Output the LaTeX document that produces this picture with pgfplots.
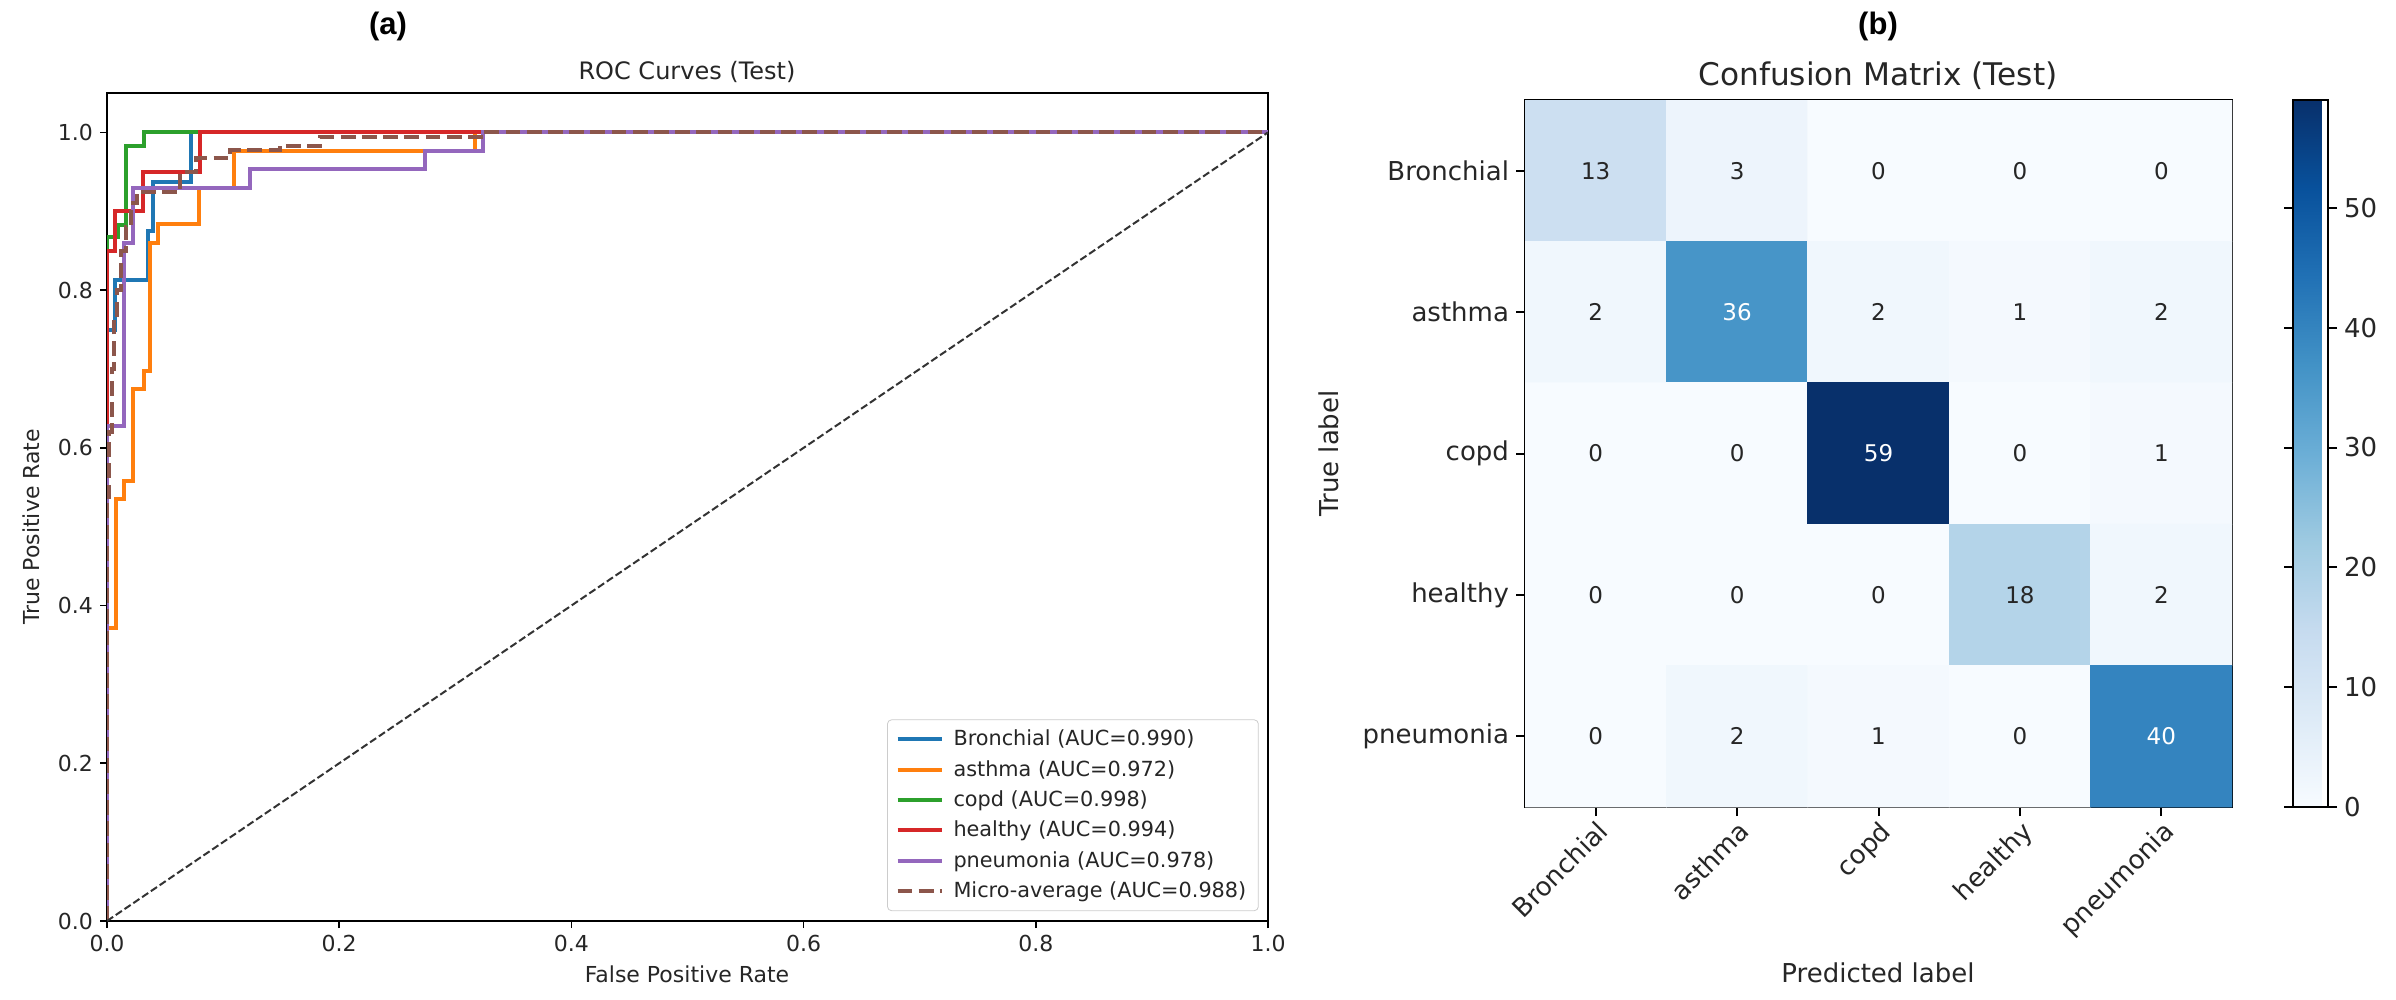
\documentclass[border=0pt]{standalone}
\usepackage{fontspec}
\setmainfont{DejaVu Sans}
\newfontfamily\panelfont{Liberation Sans}
\usepackage{pgfplots}
\pgfplotsset{compat=1.18}
\pgfplotsset{/pgf/number format/assume math mode=true}

\definecolor{tabblue}{HTML}{1F77B4}
\definecolor{taborange}{HTML}{FF7F0E}
\definecolor{tabgreen}{HTML}{2CA02C}
\definecolor{tabred}{HTML}{D62728}
\definecolor{tabpurple}{HTML}{9467BD}
\definecolor{tabbrown}{HTML}{8C564B}

\pgfplotsset{colormap={blues}{rgb255=(247,251,255) rgb255=(222,235,247) rgb255=(198,219,239) rgb255=(158,202,225) rgb255=(107,174,214) rgb255=(66,146,198) rgb255=(33,113,181) rgb255=(8,81,156) rgb255=(8,48,107)}}

\pgfplotstableread{
x y c
0 0 13
1 0 3
2 0 0
3 0 0
4 0 0
0 1 2
1 1 36
2 1 2
3 1 1
4 1 2
0 2 0
1 2 0
2 2 59
3 2 0
4 2 1
0 3 0
1 3 0
2 3 0
3 3 18
4 3 2
0 4 0
1 4 2
2 4 1
3 4 0
4 4 40
}\cmdata

\pgfplotstableread{
x y c
0 0 13
1 0 3
2 0 0
3 0 0
4 0 0
0 1 2
2 1 2
3 1 1
4 1 2
0 2 0
1 2 0
3 2 0
4 2 1
0 3 0
1 3 0
2 3 0
3 3 18
4 3 2
0 4 0
1 4 2
2 4 1
3 4 0
}\darktext

\pgfplotstableread{
x y c
1 1 36
2 2 59
4 4 40
}\lighttext

\begin{document}
\begin{tikzpicture}
\useasboundingbox (0,0) rectangle (1198pt,500pt);

% ---------------- ROC panel ----------------
\begin{axis}[
  at={(53.5pt,39.5pt)}, anchor=south west,
  width=580.5pt, height=414pt, scale only axis,
  xmin=0, xmax=1, ymin=0, ymax=1.05,
  xtick={0,0.2,0.4,0.6,0.8,1},
  ytick={0,0.2,0.4,0.6,0.8,1},
  xticklabels={0.0,0.2,0.4,0.6,0.8,1.0},
  yticklabels={0.0,0.2,0.4,0.6,0.8,1.0},
  tick label style={font=\fontsize{11}{13}\selectfont, text=black!85},
  tick align=outside, tick pos=left,
  major tick length=3.5pt,
  every tick/.style={black, line width=0.8pt},
  axis line style={line width=0.8pt},
  legend style={at={(0.992,0.012)}, anchor=south east,
    font=\fontsize{10.4}{12.5}\selectfont, text=black!85,
    draw=black!20, rounded corners=2pt, fill=white, fill opacity=0.8, text opacity=1,
    inner xsep=4pt, inner ysep=3pt, row sep=1.8pt,
    /tikz/every odd column/.append style={column sep=3pt}},
  legend cell align=left,
  legend image code/.code={\draw[#1] (0pt,0pt) -- (22pt,0pt);},
]
\addplot[tabblue, line width=2pt] coordinates {(0,0) (0,0.75) (0.0072,0.75) (0.0072,0.8125) (0.0356,0.8125) (0.0356,0.875) (0.040,0.875) (0.040,0.9375) (0.072,0.9375) (0.072,1) (1,1)};
\addlegendentry{Bronchial (AUC=0.990)}
\addplot[taborange, line width=2pt] coordinates {(0,0) (0,0.372) (0.0078,0.372) (0.0078,0.535) (0.0144,0.535) (0.0144,0.558) (0.0227,0.558) (0.0227,0.674) (0.0322,0.674) (0.0322,0.698) (0.037,0.698) (0.037,0.860) (0.044,0.860) (0.044,0.884) (0.0795,0.884) (0.0795,0.930) (0.109,0.930) (0.109,0.977) (0.317,0.977) (0.317,1) (1,1)};
\addlegendentry{asthma (AUC=0.972)}
\addplot[tabgreen, line width=2pt] coordinates {(0,0) (0,0.867) (0.0098,0.867) (0.0098,0.883) (0.0164,0.883) (0.0164,0.983) (0.032,0.983) (0.032,1) (1,1)};
\addlegendentry{copd (AUC=0.998)}
\addplot[tabred, line width=2pt] coordinates {(0,0) (0,0.85) (0.0069,0.85) (0.0069,0.9) (0.031,0.9) (0.031,0.95) (0.08,0.95) (0.08,1) (1,1)};
\addlegendentry{healthy (AUC=0.994)}
\addplot[tabpurple, line width=2pt] coordinates {(0,0) (0,0.628) (0.0144,0.628) (0.0144,0.86) (0.0227,0.86) (0.0227,0.93) (0.123,0.93) (0.123,0.953) (0.274,0.953) (0.274,0.977) (0.324,0.977) (0.324,1) (1,1)};
\addlegendentry{pneumonia (AUC=0.978)}
\addplot[tabbrown, line width=2pt, dash pattern=on 7.4pt off 3.2pt] coordinates {(0,0) (0,0.53) (0.002,0.53) (0.002,0.62) (0.004,0.62) (0.004,0.70) (0.006,0.70) (0.006,0.76) (0.009,0.76) (0.009,0.80) (0.012,0.80) (0.012,0.85) (0.016,0.85) (0.016,0.88) (0.021,0.88) (0.021,0.91) (0.026,0.91) (0.026,0.925) (0.063,0.925) (0.063,0.95) (0.077,0.95) (0.077,0.967) (0.106,0.967) (0.106,0.978) (0.149,0.978) (0.149,0.983) (0.1835,0.983) (0.1835,0.994) (0.324,0.994) (0.324,1) (1,1)};
\addlegendentry{Micro-average (AUC=0.988)}
\addplot[black!80, line width=1pt, dash pattern=on 3.7pt off 1.6pt, forget plot] coordinates {(0,0) (1,1)};
\end{axis}

\node[font=\fontsize{12}{14}\selectfont, text=black!85, anchor=base] at (343.5pt,460.3pt) {ROC Curves (Test)};
\node[font=\fontsize{11}{13}\selectfont, text=black!85, anchor=base] at (343.5pt,8.5pt) {False Positive Rate};
\node[font=\fontsize{11}{13}\selectfont, text=black!85, rotate=90] at (15.75pt,236.5pt) {True Positive Rate};
\node[font=\panelfont\bfseries\fontsize{15.5}{18}\selectfont, anchor=base] at (194pt,482.5pt) {(a)};

% ---------------- Confusion matrix panel ----------------
\begin{axis}[
  at={(762.5pt,96.5pt)}, anchor=south west,
  width=353.5pt, height=353.5pt, scale only axis,
  xmin=-0.5, xmax=4.5, ymin=-0.5, ymax=4.5, y dir=reverse,
  xtick={0,1,2,3,4}, ytick={0,1,2,3,4},
  xticklabels={Bronchial,asthma,copd,healthy,pneumonia},
  yticklabels={Bronchial,asthma,copd,healthy,pneumonia},
  tick label style={font=\fontsize{13}{15}\selectfont, text=black!85},
  xticklabel style={rotate=45, anchor=north east, inner sep=1pt},
  tick align=outside, tick pos=left,
  major tick length=4.5pt,
  every tick/.style={black, line width=1pt},
  axis line style={line width=1pt},
  colormap name=blues,
  point meta min=0, point meta max=59,
  colorbar,
  colorbar style={
    at={(parent axis.north east)}, anchor=north west, xshift=22pt,
    width=17.5pt, height=353.5pt, scale only axis,
    ytick={0,10,20,30,40,50},
    yticklabels={0,10,20,30,40,50},
    yticklabel style={font=\fontsize{13}{15}\selectfont, text=black!85},
    tick align=outside, major tick length=4.5pt,
    every tick/.style={black, line width=1pt},
    axis line style={line width=1pt},
  },
]
\addplot[matrix plot*, mesh/cols=5, mesh/rows=5, point meta=explicit] table[x=x, y=y, meta=c] {\cmdata};
\addplot[draw=none, mark=none, nodes near coords, point meta=explicit symbolic,
  every node near coord/.append style={anchor=center, font=\fontsize{11.5}{13}\selectfont, text=black!85}]
  table[x=x, y=y, meta=c] {\darktext};
\addplot[draw=none, mark=none, nodes near coords, point meta=explicit symbolic,
  every node near coord/.append style={anchor=center, font=\fontsize{11.5}{13}\selectfont, text=white}]
  table[x=x, y=y, meta=c] {\lighttext};
\end{axis}

\node[font=\fontsize{15.6}{18}\selectfont, text=black!85, anchor=base] at (939pt,457pt) {Confusion Matrix (Test)};
\node[font=\fontsize{13}{15}\selectfont, text=black!85, anchor=base] at (939pt,8.5pt) {Predicted label};
\node[font=\fontsize{13}{15}\selectfont, text=black!85, rotate=90] at (664.5pt,273.25pt) {True label};
\node[font=\panelfont\bfseries\fontsize{15.5}{18}\selectfont, anchor=base] at (939pt,482.5pt) {(b)};
\end{tikzpicture}
\end{document}
